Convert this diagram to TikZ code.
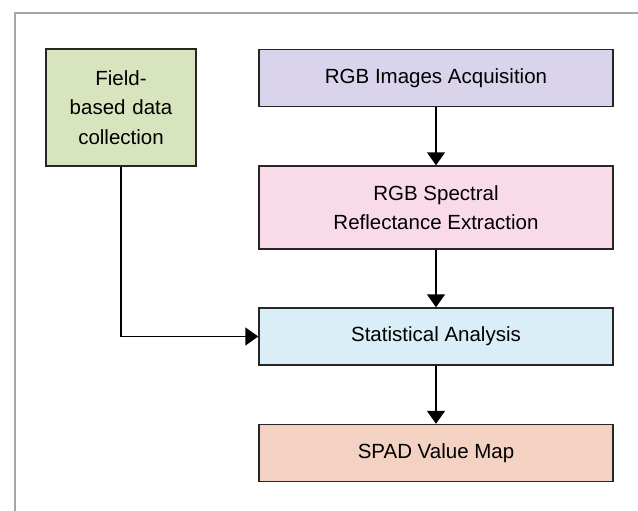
\documentclass[tikz,border=0pt]{standalone}
\usepackage{fontspec}
\setmainfont{Liberation Sans}
\usetikzlibrary{arrows.meta}
\definecolor{gfill}{HTML}{D7E4BD}
\definecolor{pfill}{HTML}{D9D3EB}
\definecolor{kfill}{HTML}{F9DAE9}
\definecolor{bfill}{HTML}{DAEEF8}
\definecolor{ofill}{HTML}{F3D2C3}
\definecolor{framec}{HTML}{A6A6A6}
\definecolor{edgec}{HTML}{262626}
\tikzset{
  x=1pt, y=-1pt,
  box/.style={draw=edgec, line width=1.4pt, minimum width=354pt, minimum height=57pt,
    inner sep=0pt, align=center, font=\fontsize{20.5}{29.5}\selectfont},
  conn/.style={line width=1.4pt, draw=black, -{Triangle[width=18pt,length=13pt]}}
}
\begin{document}
\begin{tikzpicture}
\useasboundingbox (0,0) rectangle (638,511);
\fill[white] (0,0) rectangle (638,511);
\draw[framec, line width=2pt] (15,511) -- (15,13) -- (638,13);
\node[box, fill=gfill, minimum width=150pt, minimum height=117pt, text width=140pt] (field) at (121,107.5) {Field-\\based data\\collection\\[4pt]};
\node[box, fill=pfill] (rgb) at (436,78) {RGB Images Acquisition};
\node[box, fill=kfill, minimum height=83pt] (spec) at (436,207.5) {RGB Spectral\\Reflectance Extraction};
\node[box, fill=bfill] (stat) at (436,336.5) {Statistical Analysis};
\node[box, fill=ofill] (spad) at (436,453) {SPAD Value Map};
\draw[conn] (rgb) -- (spec);
\draw[conn] (spec) -- (stat);
\draw[conn] (stat) -- (spad);
\draw[conn] (field.south) |- (stat.west);
\end{tikzpicture}
\end{document}
